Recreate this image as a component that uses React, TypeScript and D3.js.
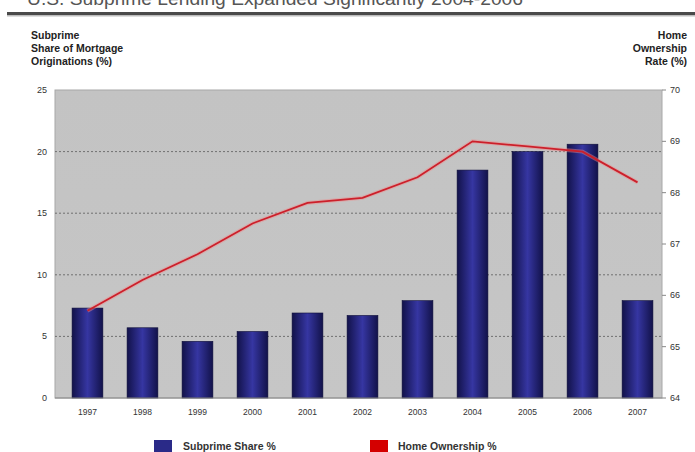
import React from "react";
import * as d3 from "d3";

const years = ["1997","1998","1999","2000","2001","2002","2003","2004","2005","2006","2007"];
const subprimeShare = [7.3, 5.7, 4.6, 5.4, 6.9, 6.7, 7.9, 18.5, 20.0, 20.6, 7.9];
const homeOwnership = [65.7, 66.3, 66.8, 67.4, 67.8, 67.9, 68.3, 69.0, 68.9, 68.8, 68.2];
const leftTicks = [0, 5, 10, 15, 20, 25];
const rightTicks = [64, 65, 66, 67, 68, 69, 70];
const titleText = "U.S. Subprime Lending Expanded Significantly 2004-2006";
const leftTitle = ["Subprime", "Share of Mortgage", "Originations (%)"];
const rightTitle = ["Home", "Ownership", "Rate (%)"];
const legendItems = ["Subprime Share %", "Home Ownership %"];

const W = 695, H = 452;
const L = 55, R = 662, T = 90, B = 398;

export default function App() {
  const x = d3.scaleBand<string>().domain(years).range([63, R]).paddingInner(0.44).paddingOuter(0.165);
  const yL = d3.scaleLinear().domain([0, 25]).range([B, T]);
  const yR = d3.scaleLinear().domain([64, 70]).range([B, T]);
  const line = d3.line<number>()
    .x((_, i) => (x(years[i]) as number) + x.bandwidth() / 2)
    .y((d) => yR(d));
  const path = line(homeOwnership) || "";
  const font = "Liberation Sans, Arial, sans-serif";
  return (
    <svg width={W} height={H} style={{ position: "absolute", left: 0, top: 0, background: "#fff" }} fontFamily={font}>
      <defs>
        <linearGradient id="barG" x1="0" x2="1" y1="0" y2="0">
          <stop offset="0" stopColor="#12124a" />
          <stop offset="0.5" stopColor="#3636a2" />
          <stop offset="1" stopColor="#12124a" />
        </linearGradient>
        <linearGradient id="bgG" x1="0" x2="0" y1="0" y2="1">
          <stop offset="0" stopColor="#c3c3c3" />
          <stop offset="1" stopColor="#c6c6c6" />
        </linearGradient>
      </defs>
      <rect width={W} height={H} fill="#fff" />
      <text x={27} y={5} fontSize={18} fill="#555" textLength={496} lengthAdjust="spacingAndGlyphs">{titleText}</text>
      <rect x={7} y={12} width={W - 7} height={3} fill="#4a4a4a" />
      <rect x={7} y={15} width={W - 7} height={1.5} fill="#bdbdbd" />
      {leftTitle.map((t, i) => (
        <text key={t} x={31} y={39 + i * 13} fontSize={10.5} fontWeight="bold" fill="#222">{t}</text>
      ))}
      {rightTitle.map((t, i) => (
        <text key={t} x={687} y={39 + i * 13} fontSize={10.5} fontWeight="bold" fill="#222" textAnchor="end">{t}</text>
      ))}
      <rect x={L} y={T} width={R - L} height={B - T} fill="url(#bgG)" stroke="#a8a8a8" strokeWidth={1} />
      {leftTicks.filter((t) => t > 0 && t < 25).map((t) => (
        <line key={t} x1={L} x2={R} y1={yL(t)} y2={yL(t)} stroke="#5a5a5a" strokeWidth={0.8} strokeDasharray="2,2" />
      ))}
      {subprimeShare.map((v, i) => (
        <rect key={years[i]} x={x(years[i])} y={yL(v)} width={x.bandwidth()} height={B - yL(v)} fill="url(#barG)" stroke="#0e0e3a" strokeWidth={0.6} />
      ))}
      <path d={path} fill="none" stroke="#f08a8a" strokeWidth={4} strokeOpacity={0.45} />
      <path d={path} fill="none" stroke="#cc1f2a" strokeWidth={1.8} />
      <line x1={L} x2={R} y1={B} y2={B} stroke="#888" strokeWidth={1} />
      {leftTicks.map((t) => (
        <text key={t} x={47} y={yL(t) + 3} fontSize={9} fill="#333" textAnchor="end">{t}</text>
      ))}
      {rightTicks.map((t) => (
        <g key={t}>
          <line x1={R} x2={R + 4} y1={yR(t)} y2={yR(t)} stroke="#888" />
          <text x={670} y={yR(t) + 3} fontSize={9} fill="#333">{t}</text>
        </g>
      ))}
      {years.map((yr) => (
        <text key={yr} x={(x(yr) as number) + x.bandwidth() / 2} y={415} fontSize={8.5} fill="#333" textAnchor="middle">{yr}</text>
      ))}
      <rect x={154} y={440} width={18} height={12} fill="#2a2a88" />
      <text x={183} y={450} fontSize={10.5} fontWeight="bold" fill="#333">{legendItems[0]}</text>
      <rect x={370} y={440} width={18} height={12} fill="#d40000" />
      <text x={398} y={450} fontSize={10.5} fontWeight="bold" fill="#333">{legendItems[1]}</text>
    </svg>
  );
}
